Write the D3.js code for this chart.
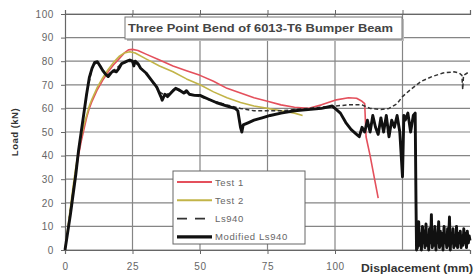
<!DOCTYPE html>
<html>
<head>
<meta charset="utf-8">
<script src="https://cdn.jsdelivr.net/npm/d3@7/dist/d3.min.js"></script>
<style>
  body { margin: 0; background: #fff; }
  svg { display: block; font-family: "Liberation Sans", Arial, sans-serif; }
</style>
</head>
<body>
<svg></svg>
<script>
const width = 476;
const height = 277;

// data: [displacement mm, load kN]
const xTicks = [0, 25, 50, 75, 100, 125, 150];
const xLabels = [0, 25, 50, 75, 100];
const yTicks = [0, 10, 20, 30, 40, 50, 60, 70, 80, 90, 100];

const test1 = [[0,0],[1,8],[2,16],[3,25],[4,33],[5,40],[6,46],[7,51],[8,56],[9,60],[10,63],[12,68],[14,72],
  [16,75.5],[18,78.5],[20,81],[22,83.5],[23.5,84.8],[25,85],[27,84.5],[30,83],[35,80.5],[40,78],[45,76],
  [50,74],[55,71.5],[60,68.5],[65,66.5],[70,64.5],[75,63],[80,61.5],[85,60.5],[90,60],[95,61.5],[100,63.5],
  [105,64.5],[108,64.3],[110,63],[111,62],[111.5,48],[113,40],[116,22]];

const test2 = [[0,0],[1,9],[2,18],[3,27],[4,35],[5,42],[6,48],[7,53],[8,57],[9,61],[10,64],[12,69],[14,73],
  [16,76.5],[18,79.5],[20,82],[22,83.5],[24,84],[26,83.5],[30,81],[35,78],[40,75.5],[45,72.5],[50,70],
  [55,67],[60,64.5],[65,62.5],[70,61],[75,60],[80,59],[85,58],[88,57]];

const ls940 = [[0,0],[3,25],[6,50],[8,66],[10,77],[11.5,79.5],[13,78],[15.5,74],[18,76],[21,79],[24,80],
  [26,79.5],[30,75],[35,67],[37,65.5],[41,68],[46,66],[50,65],[55,63],[60,61.5],[65,60],[70,59],[75,59],
  [80,59],[85,59.5],[90,60],[95,60.5],[100,61],[105,61.5],[110,61.5],[113,60],[117,59.5],[120,60],[123,62],
  [125,65],[128,68],[132,71.5],[136,73.5],[140,75],[144,75.5],[146,75],[147,74],[147.3,68],[147.6,74],
  [149,75],[150,75.5]];

const modified = [[0,0],[2,15],[4,32],[5,42],[6,50],[7,58],[8,66],[9,73],[10,77],[11,79.5],[12,79.8],
  [13,78],[14,76],[15,74.5],[16,73.5],[17,75],[18,76],[19,75.5],[20,77],[21,79],[22,79.5],[23,80],[24,80.5],
  [25,80],[25.5,78],[26,80],[27,79],[28,77],[30,75],[32,72],[34,69],[35.5,65],[36,63.5],[37,66],[38,65],
  [40,67.5],[41,68.5],[42,68],[44,66.5],[45,67.5],[46,66],[48,65.5],[50,65.5],[53,64],[56,62.5],[60,61],
  [63,60],[64,59],[65,52],[65.5,50],[66,53],[68,54],[70,55],[73,56],[76,57],[80,58],[85,59],[90,59.5],
  [95,60],[99,61],[100,60],[102,58],[104,54],[106,51],[108,49],[109,48],[110,52],[111,50],[112,55],[113,50],
  [114,57],[115,52],[116,49],[117,56],[118,50],[119,57],[120,48],[121,55],[122,52],[123,57],[124,50],
  [125,31],[125.5,57],[126,55],[127,58],[128,50],[129,57],[129.7,58],[130,20],[130.2,0],[130.4,9],[130.6,1],
  [131,12],[131.3,2],[131.6,7],[132,0],[132.4,10],[132.7,3],[133,8],[133.3,1],[133.7,11],[134,2],[134.4,6],
  [134.7,0],[135,9],[135.4,3],[135.7,15],[136,1],[136.4,7],[136.7,2],[137,10],[137.4,0],[137.7,6],[138,3],
  [138.4,12],[138.7,1],[139,8],[139.4,2],[139.7,7],[140,0],[140.4,10],[140.7,3],[141,6],[141.4,1],[141.7,9],
  [142,2],[142.4,14],[142.7,0],[143,7],[143.4,3],[143.7,9],[144,1],[144.4,6],[144.7,2],[145,10],[145.4,1],
  [145.7,7],[146,3],[146.4,8],[146.7,1],[147,6],[147.4,2],[147.7,9],[148,3],[148.4,7],[148.7,1],[149,8],
  [149.4,3],[149.7,6],[150,4]];

const series = [
  { name: "Test 1", data: test1, color: "#e4505c", w: 1.6, dash: null },
  { name: "Test 2", data: test2, color: "#c2b448", w: 1.6, dash: null },
  { name: "Ls940", data: ls940, color: "#333", w: 1.5, dash: "4,2.5" },
  { name: "Modified Ls940", data: modified, color: "#111", w: 2.9, dash: null }
];

const svg = d3.select("svg").attr("width", width).attr("height", height);

const x = d3.scaleLinear().domain([0, 150]).range([65, 470]);
const y = d3.scaleLinear().domain([0, 100]).range([250, 14]);

// сетка
svg.append("g")
  .selectAll("line.h")
  .data(yTicks)
  .enter().append("line")
  .attr("x1", 65).attr("x2", 470)
  .attr("y1", d => y(d)).attr("y2", d => y(d))
  .attr("stroke", "#858585").attr("stroke-width", 1.2);

svg.append("g")
  .selectAll("line.v")
  .data(xTicks.slice(1, 6))
  .enter().append("line")
  .attr("x1", d => x(d)).attr("x2", d => x(d))
  .attr("y1", y(100)).attr("y2", y(0))
  .attr("stroke", "#858585").attr("stroke-width", 1.2);

// оси
svg.append("g")
  .attr("transform", `translate(${x(0)},0)`)
  .call(d3.axisLeft(y).tickValues(yTicks).tickSize(4).tickPadding(7));
svg.append("g")
  .attr("transform", `translate(0,${y(0)})`)
  .call(d3.axisBottom(x).tickValues(xLabels).tickSize(4).tickPadding(9));
// small ticks on the top line
svg.append("g")
  .attr("transform", `translate(0,${y(100)})`)
  .call(d3.axisTop(x).tickValues(xTicks.slice(1, 6)).tickSize(4).tickFormat(""));

svg.selectAll(".domain").attr("stroke", "#666").attr("stroke-width", 1.2);
svg.selectAll(".tick line").attr("stroke", "#666");
svg.selectAll(".tick text")
  .attr("fill", "#666")
  .style("font-size", "10px")
  .style("letter-spacing", "0.6px");

// title box
svg.append("rect")
  .attr("x", 127).attr("y", 19).attr("width", 277).attr("height", 22)
  .attr("fill", "#bbb");
svg.append("rect")
  .attr("x", 125).attr("y", 17).attr("width", 277).attr("height", 22)
  .attr("fill", "#fff").attr("stroke", "#777");
svg.append("text")
  .attr("x", 128).attr("y", 32)
  .attr("textLength", 265).attr("lengthAdjust", "spacingAndGlyphs")
  .attr("fill", "#444").style("font-size", "10px").style("font-weight", "bold")
  .text("Three Point Bend of 6013-T6 Bumper Beam");

// кривые
const line = d3.line().x(d => x(d[0])).y(d => y(d[1]));
svg.append("g")
  .selectAll("path")
  .data(series)
  .enter().append("path")
  .attr("d", d => line(d.data))
  .attr("fill", "none")
  .attr("stroke", d => d.color)
  .attr("stroke-width", d => d.w)
  .attr("stroke-dasharray", d => d.dash)
  .attr("stroke-linejoin", "round");

// легенда
const lg = svg.append("g");
lg.append("rect")
  .attr("x", 173).attr("y", 171).attr("width", 132).attr("height", 73)
  .attr("fill", "#fff").attr("stroke", "#666");
const items = lg.selectAll("g.item")
  .data(series)
  .enter().append("g")
  .attr("transform", (d, i) => `translate(0,${182 + i * 18.3})`);
items.append("line")
  .attr("x1", 177).attr("x2", 212)
  .attr("stroke", d => d.color)
  .attr("stroke-width", d => d.w + 0.3)
  .attr("stroke-dasharray", d => d.dash ? "10,8" : null);
items.append("text")
  .attr("x", 215).attr("y", 3.5)
  .attr("fill", "#666").style("font-size", "9.5px").style("letter-spacing", "0.6px")
  .text(d => d.name);

// подписи осей
svg.append("text")
  .attr("x", 361).attr("y", 272)
  .attr("textLength", 112).attr("lengthAdjust", "spacingAndGlyphs")
  .attr("fill", "#333").style("font-size", "10.5px").style("font-weight", "bold")
  .text("Displacement (mm)");
svg.append("text")
  .attr("transform", "translate(18,132) rotate(-90)")
  .attr("text-anchor", "middle")
  .attr("fill", "#333").style("font-size", "9.5px").style("font-weight", "bold")
  .style("letter-spacing", "0.5px")
  .text("Load (kN)");
</script>
</body>
</html>
